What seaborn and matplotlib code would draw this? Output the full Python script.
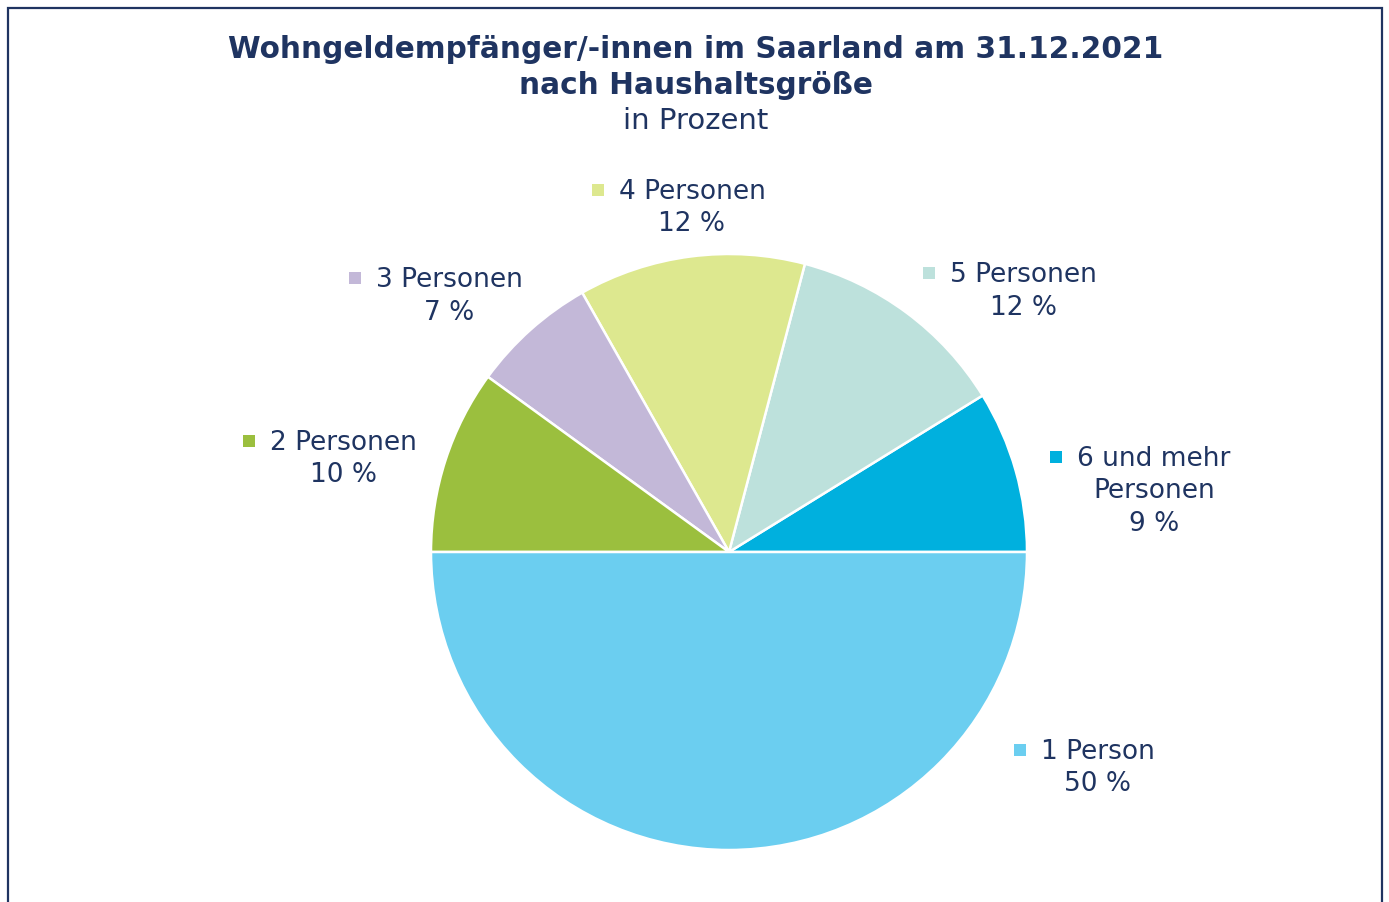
import matplotlib
matplotlib.use("Agg")
import matplotlib.pyplot as plt
import seaborn as sns
from matplotlib.patches import Rectangle

sns.set_theme(style="white")
plt.rcParams['font.family'] = ['DejaVu Sans']

# Data (counter-clockwise from 3 o'clock)
categories = ["6 und mehr\nPersonen", "5 Personen", "4 Personen", "3 Personen", "2 Personen", "1 Person"]
values = [8.8, 12.1, 12.3, 6.8, 10.0, 50.0]
colors = ["#00B0DE", "#BDE1DC", "#DDE88F", "#C3B8D8", "#9BBF3E", "#6BCEF0"]

title_lines = ["Wohngeldempfänger/-innen im Saarland am 31.12.2021", "nach Haushaltsgröße"]
subtitle = "in Prozent"

NAVY = "#1F3461"
W, H = 1389, 902
fig = plt.figure(figsize=(W / 100, H / 100), dpi=100)
cx, cy, R = 729, 552, 298
ax = fig.add_axes([0, 0, 1, 1])
ax.pie(values, colors=colors, startangle=0, counterclock=True, radius=1,
       wedgeprops=dict(edgecolor="white", linewidth=1.8))
ax.set_xlim(-cx / R, (W - cx) / R)
ax.set_ylim(-(H - cy) / R, cy / R)
ax.set_aspect("auto")
ax.axis("off")

# label block centres (pixels) for layout
label_px = [(1154, 491.5), (1023, 291.5), (692, 208), (449, 296.5), (343, 459), (1098, 768)]
fs = 19
lh = 32.5
texts = []
for cat, v, col, (px, py) in zip(categories, values, colors, label_px):
    lines = cat.split("\n") + [f"{round(v):d} %"]
    n = len(lines)
    top = py - lh * (n - 1) / 2
    first = None
    for i, ln in enumerate(lines):
        t = fig.text(px / W, 1 - (top + i * lh) / H, ln, ha="center", va="center",
                     fontsize=fs, color=NAVY)
        if i == 0:
            first = t
    texts.append((first, col, top))

fig.canvas.draw()
r = fig.canvas.get_renderer()
for t, col, top in texts:
    bb = t.get_window_extent(r)
    mx = bb.x0 - 21
    fig.patches.append(Rectangle(((mx - 6) / W, 1 - (top - 2 + 6) / H), 12 / W, 12 / H,
                                 transform=fig.transFigure, facecolor=col, edgecolor="none"))

fig.text(696 / W, 1 - 50 / H, title_lines[0], ha="center", va="center", fontsize=21.3,
         fontweight="bold", color=NAVY)
fig.text(696 / W, 1 - 86 / H, title_lines[1], ha="center", va="center", fontsize=21.3,
         fontweight="bold", color=NAVY)
fig.text(696 / W, 1 - 121 / H, subtitle, ha="center", va="center", fontsize=21, color=NAVY)

fig.patches.append(Rectangle((8 / W, -0.05), (1382 - 8) / W, 1.05 - 8 / H,
                             transform=fig.transFigure, fill=False, edgecolor=NAVY, linewidth=1.6))

fig.savefig("out.png", dpi=100)
